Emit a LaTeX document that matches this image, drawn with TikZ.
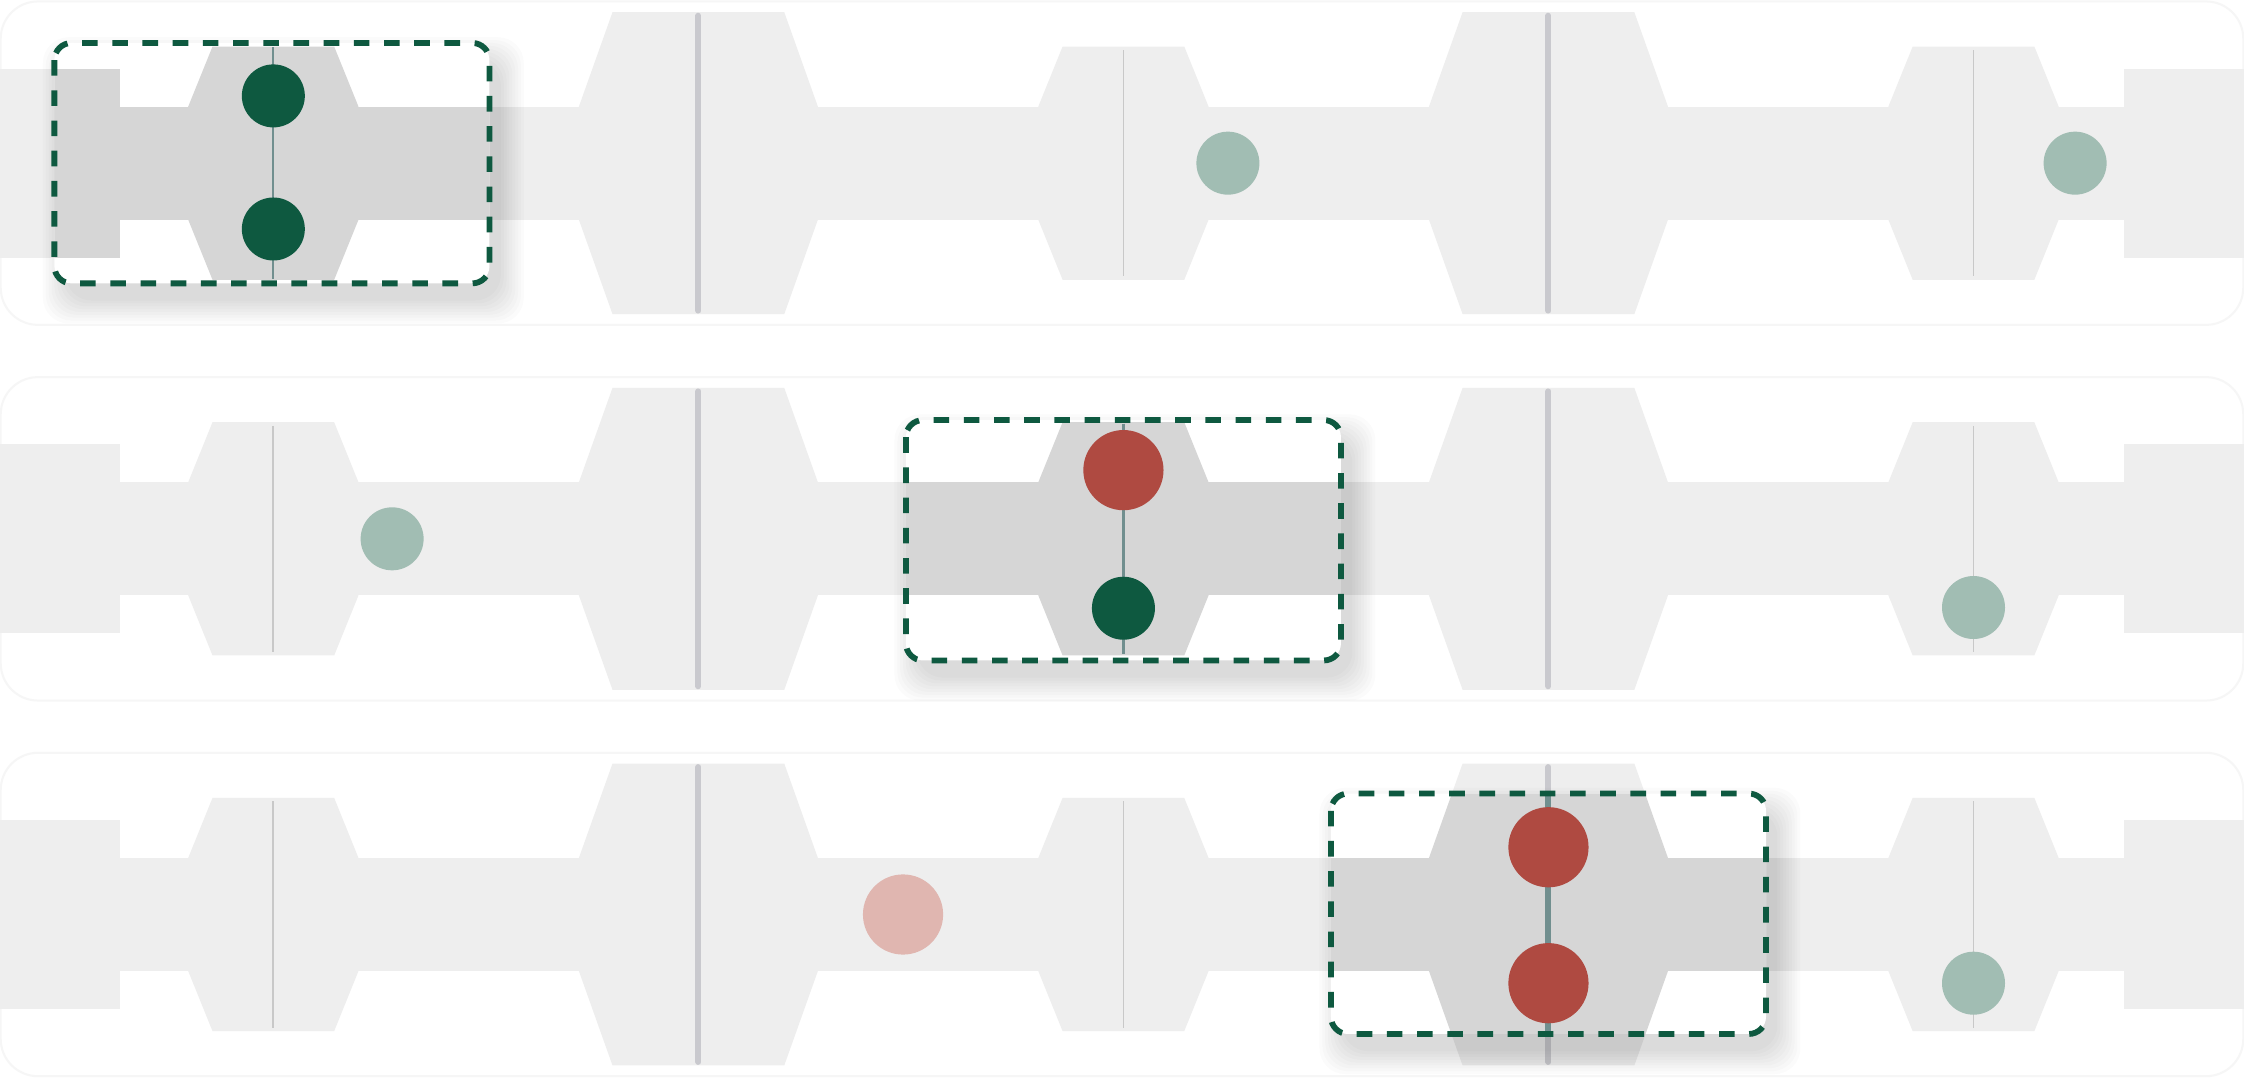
\documentclass[tikz,border=0pt]{standalone}
\usetikzlibrary{calc}
\definecolor{shapelight}{HTML}{EEEEEE}
\definecolor{shapedark}{HTML}{D6D6D6}
\definecolor{gateline}{HTML}{C9C9CE}
\definecolor{thinline}{HTML}{C8C8C8}
\definecolor{darkgreen}{HTML}{0E5940}
\definecolor{redc}{HTML}{AF4A41}
\definecolor{lightgreen}{HTML}{A1BDB3}
\definecolor{pinkc}{HTML}{E0B6B0}
\definecolor{tealline}{HTML}{718F8F}
\definecolor{panelline}{HTML}{F6F6F6}
\tikzset{
  panel/.style={draw=panelline, line width=0.4pt, rounded corners=0.26cm},
  gatethick/.style={draw=gateline, line width=1.2pt, line cap=round},
  gatethin/.style={draw=thinline, line width=0.35pt},
  linkthin/.style={draw=tealline, line width=0.45pt},
  linkthick/.style={draw=tealline, line width=1.2pt},
  dotS/.style={circle, inner sep=0pt, minimum size=0.44cm},
  dotL/.style={circle, inner sep=0pt, minimum size=0.56cm},
  hlborder/.style={draw=darkgreen, line width=1.15pt, dash pattern=on 3.1pt off 2.9pt, rounded corners=0.12cm},
  hlfill/.style={fill=white, rounded corners=0.12cm},
}
% one track row: #1 = y centre, #2 = fill colour
\newcommand\trackrow[2]{%
  \fill[#2] (0,#1-39.5) rectangle (1568,#1+39.5);
  \fill[#2] (0,#1-66) rectangle (84,#1+66);
  \fill[#2] (1484,#1-66) rectangle (1568,#1+66);
  \foreach \hx in {191,785,1379} {
    \fill[#2, shift={(\hx,#1)}] (-42.5,-81.5) -- (42.5,-81.5) -- (59.5,-39.5) -- (59.5,39.5) -- (42.5,81.5) -- (-42.5,81.5) -- (-59.5,39.5) -- (-59.5,-39.5) -- cycle;
  }
  \foreach \hx in {488,1082} {
    \fill[#2, shift={(\hx,#1)}] (-60,-105.5) -- (60,-105.5) -- (83.5,-39.5) -- (83.5,39.5) -- (60,105.5) -- (-60,105.5) -- (-83.5,39.5) -- (-83.5,-39.5) -- cycle;
  }
}
\newcommand\trackrowlines[1]{%
  \foreach \hx in {191,785,1379} { \draw[gatethin] (\hx,#1-79) -- (\hx,#1+79); }
  \foreach \hx in {488,1082} { \draw[gatethick] (\hx,#1-103) -- (\hx,#1+103); }
}
% soft shadow of a highlight box centred at (#1,#2)
\newcommand\hlshadow[2]{%
  \foreach \s in {0,2,...,16} {
    \fill[black, opacity=0.016, rounded corners=0.18cm] (#1-152+8-\s,#2-84+12-\s) rectangle (#1+152+8+\s,#2+84+12+\s);
  }
}
\begin{document}
\begin{tikzpicture}[x=0.01cm, y=-0.01cm]
\useasboundingbox (0,0) rectangle (1568,760);
\fill[white] (0,0) rectangle (1568,760);

% faint panels
\draw[panel] (0.5,1) rectangle (1567.5,227);
\draw[panel] (0.5,263.5) rectangle (1567.5,489.5);
\draw[panel] (0.5,526) rectangle (1567.5,752);

% rows
\trackrow{114}{shapelight}
\trackrow{376.5}{shapelight}
\trackrow{639}{shapelight}
\trackrowlines{114}
\trackrowlines{376.5}
\trackrowlines{639}

% plain dots
\node[dotS, fill=lightgreen] (r1d1) at (858,114) {};
\node[dotS, fill=lightgreen] (r1d2) at (1450,114) {};
\node[dotS, fill=lightgreen] (r2d1) at (274,376.5) {};
\node[dotS, fill=lightgreen] (r2d2) at (1379,424.5) {};
\node[dotL, fill=pinkc] (r3d1) at (631,639) {};
\node[dotS, fill=lightgreen] (r3d2) at (1379,687) {};

% ---- highlight box 1
\hlshadow{190}{114}
\fill[hlfill] (38,30) rectangle (342,198);
\begin{scope}
  \clip[rounded corners=0.12cm] (38,30) rectangle (342,198);
  \trackrow{114}{shapedark}
  \coordinate (b1t) at (191,33);
  \coordinate (b1b) at (191,195);
  \draw[linkthin] (b1t) -- (b1b);
\end{scope}
\node[dotS, fill=darkgreen] (b1a) at (191,67) {};
\node[dotS, fill=darkgreen] (b1c) at (191,160) {};
\draw[hlborder] (38,30) rectangle (342,198);

% ---- highlight box 2
\hlshadow{785}{377.5}
\fill[hlfill] (633,293.5) rectangle (937,461.5);
\begin{scope}
  \clip[rounded corners=0.12cm] (633,293.5) rectangle (937,461.5);
  \trackrow{376.5}{shapedark}
  \coordinate (b2t) at (785,296);
  \coordinate (b2b) at (785,457);
  \draw[linkthin] (b2t) -- (b2b);
\end{scope}
\node[dotL, fill=redc] (b2a) at (785,328.5) {};
\node[dotS, fill=darkgreen] (b2c) at (785,425) {};
\draw[hlborder] (633,293.5) rectangle (937,461.5);

% ---- highlight box 3
\hlshadow{1082}{638.5}
\fill[hlfill] (930,554.5) rectangle (1234,722.5);
\begin{scope}
  \clip[rounded corners=0.12cm] (930,554.5) rectangle (1234,722.5);
  \trackrow{639}{shapedark}
  \coordinate (b3t) at (1082,536);
  \coordinate (b3b) at (1082,742);
  \draw[linkthick] (b3t) -- (b3b);
\end{scope}
\node[dotL, fill=redc] (b3a) at (1082,592) {};
\node[dotL, fill=redc] (b3c) at (1082,687) {};
\draw[hlborder] (930,554.5) rectangle (1234,722.5);
\end{tikzpicture}
\end{document}
